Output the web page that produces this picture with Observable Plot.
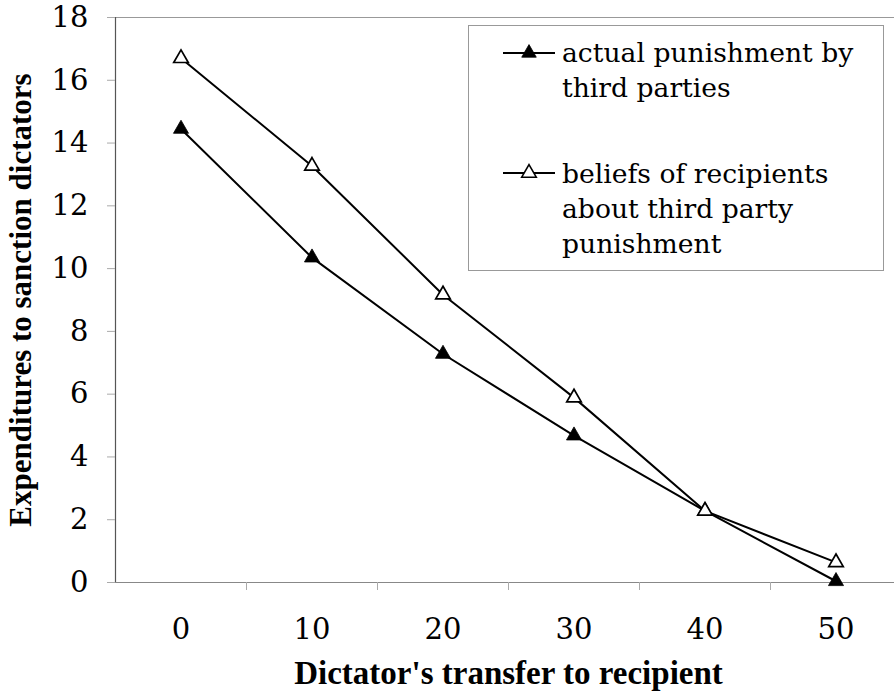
<!DOCTYPE html>
<html><head><meta charset="utf-8">
<script src="https://cdn.jsdelivr.net/npm/d3@7"></script>
<script src="https://cdn.jsdelivr.net/npm/@observablehq/plot@0.6"></script>
<style>
body{margin:0;background:#fff;overflow:hidden}
#wrap{position:relative;width:894px;height:696px;overflow:hidden;background:#fff}
#legend{position:absolute;left:468px;top:25px;width:416px;height:246px;border:1px solid #999;background:#fff;box-sizing:border-box}
.sym{position:absolute;left:33px;width:54px;height:20px}
.txt{position:absolute;left:93px;font-family:"DejaVu Serif",serif;font-size:26.6px;line-height:35px;color:#000;white-space:nowrap}
</style></head><body><div id="wrap"></div>
<script>
// ---- data ----
const transfers = [0, 10, 20, 30, 40, 50];
const actualPunishment = [14.45, 10.35, 7.28, 4.68, 2.28, 0.04];
const recipientBeliefs = [16.7, 13.27, 9.17, 5.89, 2.28, 0.64];
const yTicks = [0, 2, 4, 6, 8, 10, 12, 14, 16, 18];
const xTickMarks = [5, 15, 25, 35, 45];
const legendActual = ["actual punishment by", "third parties"];
const legendBeliefs = ["beliefs of recipients", "about third party", "punishment"];
const xTitle = "Dictator's transfer to recipient";
const yTitle = "Expenditures to sanction dictators";

const actualRows = transfers.map((t, i) => ({x: t, y: actualPunishment[i], s: "actual"}));
const beliefRows = transfers.map((t, i) => ({x: t, y: recipientBeliefs[i], s: "beliefs"}));

const serifBold = "Liberation Serif";
const serifReg = "DejaVu Serif";
const chart = Plot.plot({
  width: 894, height: 696,
  marginLeft: 115, marginRight: -7, marginTop: 17, marginBottom: 114,
  style: {fontFamily: serifReg, fontSize: "29px", color: "#000", background: "#fff"},
  x: {domain: [-5, 55]},
  y: {domain: [0, 18]},
  marks: [
    Plot.ruleY([18], {stroke: "#999", strokeWidth: 1.2}),
    Plot.ruleY([0], {stroke: "#888", strokeWidth: 1.2}),
    Plot.ruleX([-5], {stroke: "#555", strokeWidth: 1.2}),
    Plot.axisY({ticks: yTicks, tickSize: 8, tickPadding: 19, stroke: "#aaa", fill: "#000", label: null, fontSize: 29, fontFamily: serifReg}),
    Plot.axisY({ticks: [], label: yTitle, labelAnchor: "center", labelArrow: "none", labelOffset: 107, fontWeight: "bold", fontSize: 31, fontFamily: serifBold, fill: "#000"}),
    Plot.axisX({ticks: transfers, tickSize: 0, tickPadding: 36, label: null, fontSize: 29, fontFamily: serifReg, fill: "#000"}),
    Plot.axisX({ticks: xTickMarks, tickSize: 8, tickFormat: () => "", stroke: "#aaa", label: null}),
    Plot.axisX({ticks: [], label: xTitle, labelAnchor: "center", labelArrow: "none", labelOffset: 101, fontWeight: "bold", fontSize: 33, fontFamily: serifBold, fill: "#000"}),
    Plot.line(actualRows, {x: "x", y: "y", stroke: "#000", strokeWidth: 2}),
    Plot.line(beliefRows, {x: "x", y: "y", stroke: "#000", strokeWidth: 2}),
    Plot.dot(actualRows, {x: "x", y: "y", symbol: "triangle", r: 5.6, fill: "#000", stroke: "#000", strokeWidth: 0.8}),
    Plot.dot(beliefRows, {x: "x", y: "y", symbol: "triangle", r: 5.4, fill: "#fff", stroke: "#000", strokeWidth: 1.7})
  ]
});
const wrap = document.getElementById("wrap");
wrap.appendChild(chart);

// ---- legend (HTML overlay inside the plot area) ----
function symbolSvg(filled) {
  const p = d3.symbol(d3.symbolTriangle, 5.4 * 5.4 * Math.PI)();
  return `<svg width="54" height="20" viewBox="-27 -10 54 20"><line x1="-26" x2="26" y1="0" y2="0" stroke="#000" stroke-width="2"/>` +
    `<path d="${p}" fill="${filled ? "#000" : "#fff"}" stroke="#000" stroke-width="${filled ? 0.8 : 1.6}"/></svg>`;
}
const legend = document.createElement("div");
legend.id = "legend";
legend.innerHTML =
  `<div class="sym" style="top:17px">${symbolSvg(true)}</div>` +
  `<div class="txt" style="top:9px">${legendActual.join("<br>")}</div>` +
  `<div class="sym" style="top:137px">${symbolSvg(false)}</div>` +
  `<div class="txt" style="top:130px">${legendBeliefs.join("<br>")}</div>`;
wrap.appendChild(legend);
</script>
</body></html>
